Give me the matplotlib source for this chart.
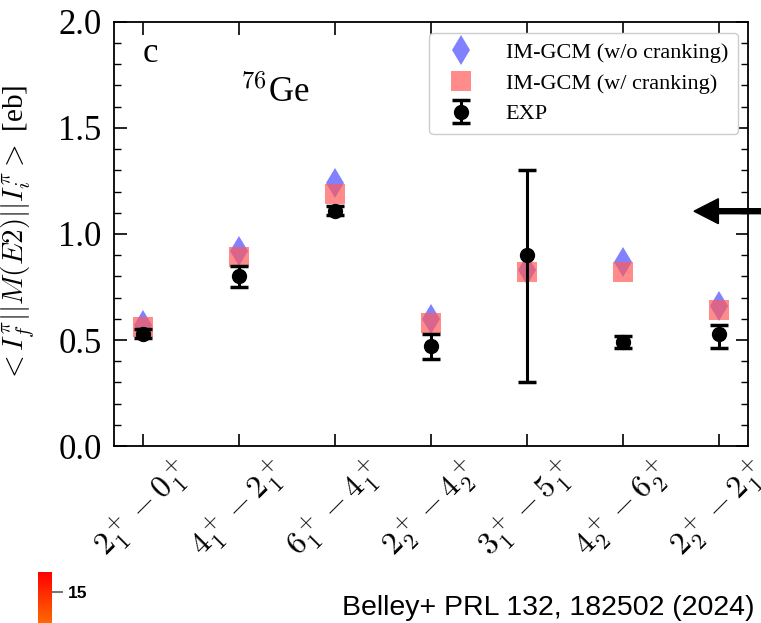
import matplotlib.pyplot as plt
import matplotlib as mpl
import numpy as np

plt.rcParams['font.family'] = 'serif'
plt.rcParams['font.serif'] = ['Liberation Serif', 'DejaVu Serif']
plt.rcParams['mathtext.fontset'] = 'cm'

# E2 transitions in 76Ge
transitions = [r'$2_1^+-0_1^+$', r'$4_1^+-2_1^+$', r'$6_1^+-4_1^+$', r'$2_2^+-4_2^+$',
               r'$3_1^+-5_1^+$', r'$4_2^+-6_2^+$', r'$2_2^+-2_1^+$']
no_crank = [0.57, 0.92, 1.24, 0.60, 0.83, 0.87, 0.66]
crank = [0.56, 0.89, 1.19, 0.58, 0.82, 0.82, 0.64]
exp_val = [0.53, 0.80, 1.11, 0.47, 0.90, 0.49, 0.53]
exp_lo = [0.02, 0.05, 0.02, 0.06, 0.60, 0.03, 0.07]
exp_hi = [0.02, 0.05, 0.02, 0.06, 0.40, 0.03, 0.04]

x = np.arange(len(transitions))

fig = plt.figure(figsize=(7.61, 6.23), dpi=100)
ax = fig.add_axes([0.150, 0.284, 0.833, 0.681])

ax.plot(x, no_crank, 'd', color='#6b6bff', alpha=0.85, markersize=15, markeredgewidth=0,
        label='IM-GCM (w/o cranking)', zorder=3)
ax.plot(x, crank, 's', color='#ff5a5a', alpha=0.7, markersize=15, markeredgewidth=0,
        label='IM-GCM (w/ cranking)', zorder=4)
ax.errorbar(x, exp_val, yerr=[exp_lo, exp_hi], fmt='o', color='black', markersize=10,
            capsize=6.5, capthick=2.5, elinewidth=2.2, label='EXP', zorder=5)

ax.set_xlim(-0.3, 6.3)
ax.set_ylim(0, 2.0)
ax.set_xticks(x)
ax.set_xticklabels(transitions, rotation=45, fontsize=23)
ax.set_yticks([0.0, 0.5, 1.0, 1.5, 2.0])
ax.yaxis.set_minor_locator(mpl.ticker.MultipleLocator(0.1))
ax.tick_params(axis='both', which='both', direction='in', top=True, right=True)
ax.tick_params(axis='both', which='major', length=9, width=1.2)
ax.tick_params(axis='x', which='major', pad=5)
ax.tick_params(axis='y', which='major', labelsize=25, pad=9)
ax.tick_params(axis='y', which='minor', length=5, width=1.0)
ax.tick_params(axis='x', which='minor', length=0)
for s in ax.spines.values():
    s.set_linewidth(1.3)

ax.set_ylabel(r'$<I_f^\pi||M(E2)||I_i^\pi>$ [eb]', fontsize=21)
ax.yaxis.set_label_coords(-0.121, 0.5)

ax.text(0.045, 0.905, 'c', transform=ax.transAxes, fontsize=25, va='baseline')
ax.text(0.199, 0.81, r'$^{76}$Ge', transform=ax.transAxes, fontsize=25, va='baseline')

ax.legend(loc='upper right', fontsize=16, framealpha=1, edgecolor='#cccccc',
          fancybox=True, handletextpad=1.0, borderpad=0.45, labelspacing=0.45,
          borderaxespad=0.3, bbox_to_anchor=(0.995, 0.99))

# arrow pointing in from the right edge
fig.patches.append(mpl.patches.FancyArrow(1.02, 0.661, -0.108, 0.0, width=0.008,
                                          head_width=0.04, head_length=0.032,
                                          length_includes_head=True, color='black',
                                          transform=fig.transFigure, figure=fig))

# colour scale fragment in the corner
cax = fig.add_axes([0.050, -0.118, 0.018, 0.2])
cb = fig.colorbar(mpl.cm.ScalarMappable(norm=mpl.colors.Normalize(0, 17.9), cmap='autumn_r'),
                  cax=cax)
cb.outline.set_visible(False)
cb.set_ticks([15])
cax.tick_params(length=8, width=1.5, color='#777777', labelsize=12.5)
for t in cax.get_yticklabels():
    t.set_family('Liberation Sans')
    t.set_fontweight('bold')

fig.text(0.992, 0.013, 'Belley+ PRL 132, 182502 (2024)', ha='right', va='baseline',
         fontsize=20.5, family='Liberation Sans')

fig.savefig('out.png', dpi=100)
